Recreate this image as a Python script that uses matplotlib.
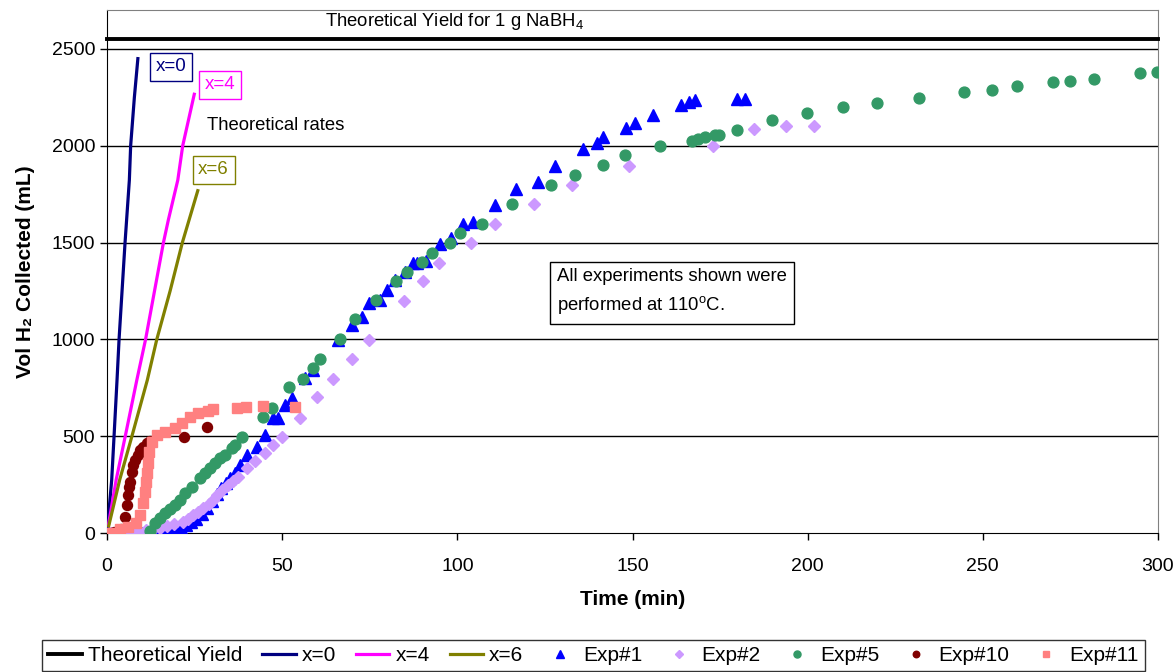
import matplotlib
matplotlib.use("Agg")
import matplotlib.pyplot as plt

plt.rcParams["font.family"] = ["Liberation Sans", "DejaVu Sans"]
plt.rcParams["mathtext.fontset"] = "custom"
plt.rcParams["mathtext.rm"] = "Liberation Sans"
plt.rcParams["mathtext.bf"] = "Liberation Sans:bold"

# -----------------------------
# Data
# -----------------------------
theoretical_yield = 2550

x0_t = [0, 1.33, 2.0, 2.85, 3.43, 5.14, 6.37, 6.74, 7.8, 8.8]
x0_v = [0, 274, 500, 790, 1000, 1500, 1823, 2000, 2250, 2450]

x4_t = [0, 2.6, 5.2, 8.5, 11.0, 16.1, 17.5, 20.2, 21.6, 24.9]
x4_v = [0, 274, 500, 790, 1000, 1500, 1617, 1823, 2000, 2266]

x6_t = [0, 3.6, 7.1, 11.5, 14.2, 18.0, 21.5, 25.9]
x6_v = [0, 274, 500, 790, 1000, 1250, 1500, 1768]

exp1_t = [0, 1, 2, 3, 4, 5, 6, 7, 8, 9, 10, 11, 12, 13, 14, 15,
          16.5, 18, 19.5, 21, 22.5, 24, 25.5, 27, 28.5, 30, 31.3, 32.5,
          34, 35.1, 36.5, 38, 39.9, 42.7, 45.1, 47.5, 48.9, 50.8, 52.7,
          56.5, 58.9, 66.0, 69.9, 72.7, 74.9, 77.9, 80.0, 82.2, 85.1,
          87.4, 88.6, 91.1, 95.1, 98.1, 101.7, 104.6, 110.8, 116.8,
          123.0, 127.9, 135.8, 140.0, 141.7, 148.1, 150.7, 155.9, 163.9,
          166.1, 167.9, 179.9, 182.1]
exp1_v = [0, 0, 0, 0, 0, 0, 0, 0, 0, 0, 0, 0, 0, 0, 0, 0,
          5, 10, 18, 28, 40, 55, 75, 100, 130, 165, 200, 230,
          260, 283, 310, 350, 403, 446, 506, 592, 592, 661, 696,
          799, 842, 997, 1074, 1117, 1186, 1204, 1255, 1307, 1350,
          1393, 1393, 1405, 1491, 1522, 1596, 1608, 1694, 1775,
          1815, 1896, 1983, 2016, 2047, 2090, 2116, 2159, 2211,
          2225, 2237, 2242, 2242]

exp2_t = [1, 3, 5, 7, 9, 11, 13, 15, 17, 19, 21.8, 23, 24.6, 26, 27.5,
          29, 30.3, 31.5, 32.7, 34.6, 36, 37.5, 39.9, 42.2, 45.1, 47.5,
          49.9, 55.1, 59.8, 64.6, 69.9, 74.8, 84.9, 90.1, 94.9, 103.8,
          110.8, 121.9, 132.7, 149.0, 173.1, 184.7, 193.7, 201.8]
exp2_v = [0, 3, 5, 8, 12, 16, 22, 28, 36, 45, 58, 75, 93, 110, 128,
          148, 170, 196, 222, 248, 270, 291, 334, 372, 415, 455,
          494, 596, 700, 795, 897, 997, 1200, 1302, 1396, 1496,
          1596, 1698, 1797, 1897, 1999, 2087, 2104, 2104]

exp5_t = [12.3, 13.7, 15.1, 16.6, 18.0, 19.4, 20.8, 22.3, 24.2, 26.5,
          27.9, 29.4, 30.8, 32.3, 33.7, 35.6, 36.5, 38.5, 44.6, 47.0,
          51.8, 55.8, 58.7, 60.8, 66.5, 70.8, 76.8, 82.5, 85.7, 90.0,
          92.7, 97.9, 100.8, 106.9, 115.5, 126.7, 133.6, 141.7, 147.9,
          157.9, 166.9, 168.8, 170.7, 173.6, 174.8, 179.8, 189.7, 199.7,
          210.0, 219.7, 231.9, 244.6, 252.6, 259.9, 270.0, 275.0, 281.8,
          295.0, 299.8]
exp5_v = [10, 50, 76, 102, 122, 145, 170, 205, 239, 283,
          308, 334, 360, 386, 403, 437, 455, 497, 601, 644,
          756, 795, 850, 899, 1000, 1104, 1204, 1302, 1347, 1398,
          1448, 1496, 1548, 1598, 1699, 1799, 1849, 1901, 1951,
          2001, 2026, 2034, 2044, 2056, 2056, 2082, 2133, 2171,
          2202, 2223, 2247, 2278, 2290, 2311, 2328, 2335, 2347,
          2378, 2383]

exp10_t = [0, 2, 4, 5.1, 5.6, 6.1, 6.4, 6.6, 7.0, 7.5, 8.0, 8.7, 9.4,
           10.4, 11.3, 12.3, 22.1, 28.4]
exp10_v = [0, 5, 20, 84, 145, 196, 239, 265, 317, 351, 377, 403, 429,
           446, 463, 475, 498, 549]

exp11_t = [0, 1.8, 3.7, 6.1, 8.2, 9.4, 10.4, 10.8, 11.0, 11.3, 11.6,
           12.0, 12.8, 14.2, 16.6, 19.4, 21.5, 23.7, 26.1, 28.9, 30.3,
           37.2, 39.6, 44.6, 53.7]
exp11_v = [0, 0, 19, 33, 50, 93, 153, 213, 265, 308, 360,
           420, 472, 506, 523, 541, 567, 601, 618, 632, 639,
           644, 652, 656, 652]

x_ticks = [0, 50, 100, 150, 200, 250, 300]
y_ticks = [0, 500, 1000, 1500, 2000, 2500]


def main() -> None:
    fig = plt.figure(figsize=(11.75, 6.72), dpi=100)
    ax = fig.add_axes([0.0911, 0.2068, 0.8944, 0.778])

    # -----------------------------
    # Gridlines
    # -----------------------------
    for y in y_ticks[1:]:
        ax.axhline(y, color="black", lw=1.0, zorder=1)

    # -----------------------------
    # Lines
    # -----------------------------
    h_ty = ax.axhline(theoretical_yield, color="black", lw=2.8, zorder=3,
                      clip_on=False, label="Theoretical Yield")
    h0, = ax.plot(x0_t, x0_v, color="#000080", lw=2.3, label="x=0", zorder=3)
    h4, = ax.plot(x4_t, x4_v, color="#FF00FF", lw=2.3, label="x=4", zorder=3)
    h6, = ax.plot(x6_t, x6_v, color="#808000", lw=2.3, label="x=6", zorder=3)

    # -----------------------------
    # Experiments
    # -----------------------------
    s1, = ax.plot(exp1_t, exp1_v, ls="none", marker="^", ms=9,
                  color="#0000FF", mec="#0000FF", label="Exp#1", zorder=4)
    s2, = ax.plot(exp2_t, exp2_v, ls="none", marker="D", ms=6.5,
                  color="#CC99FF", mec="#CC99FF", label="Exp#2", zorder=4)
    s5, = ax.plot(exp5_t, exp5_v, ls="none", marker="o", ms=7.8,
                  color="#339966", mec="#339966", label="Exp#5", zorder=4)
    s10, = ax.plot(exp10_t, exp10_v, ls="none", marker="o", ms=7.2,
                   color="#800000", mec="#800000", label="Exp#10", zorder=4)
    s11, = ax.plot(exp11_t, exp11_v, ls="none", marker="s", ms=7.2,
                   color="#FF8080", mec="#FF8080", label="Exp#11", zorder=4)

    # -----------------------------
    # Axes
    # -----------------------------
    ax.set_xlim(0, 300)
    ax.set_ylim(0, 2700)
    ax.set_xticks(x_ticks)
    ax.set_yticks(y_ticks)
    ax.tick_params(direction="out", length=5, width=1, labelsize=14,
                   color="black")
    ax.tick_params(axis="x", pad=13)
    for side in ["top", "right"]:
        ax.spines[side].set_color("#808080")
    for side in ["left", "bottom"]:
        ax.spines[side].set_color("black")

    ax.set_xlabel("Time (min)", fontsize=15, fontweight="bold", labelpad=11)
    ax.set_ylabel("Vol H₂ Collected (mL)", fontsize=15, fontweight="bold",
                  labelpad=12)

    # -----------------------------
    # Annotations
    # -----------------------------
    ax.text(99.3, 2640, "Theoretical Yield for 1 g NaBH$_4$", fontsize=13.3,
            ha="center", va="center")
    box = dict(boxstyle="square,pad=0.3", fc="white", lw=1)
    ax.text(18.3, 2407, "x=0", fontsize=13.5, color="#000080", ha="center",
            va="center", bbox=dict(box, ec="#000080"))
    ax.text(32.3, 2314, "x=4", fontsize=13.5, color="#FF00FF", ha="center",
            va="center", bbox=dict(box, ec="#FF00FF"))
    ax.text(30.4, 1875, "x=6", fontsize=13.5, color="#808000", ha="center",
            va="center", bbox=dict(box, ec="#808000"))
    ax.text(28.5, 2107, "Theoretical rates", fontsize=13.3, ha="left",
            va="center")
    ax.text(161.3, 1245,
            "All experiments shown were\nperformed at 110$^{\\rm o}$C.",
            fontsize=13.3, ha="center", va="center", multialignment="left",
            linespacing=1.6,
            bbox=dict(boxstyle="square,pad=0.4", fc="white", ec="black",
                      lw=1))

    # -----------------------------
    # Legend
    # -----------------------------
    leg = fig.legend(handles=[h_ty, h0, h4, h6, s1, s2, s5, s10, s11],
                     loc="upper center", bbox_to_anchor=(0.505, 0.048),
                     borderaxespad=0, ncol=9, fontsize=15, frameon=True,
                     fancybox=False, edgecolor="black", handlelength=1.6,
                     handletextpad=0.3, columnspacing=0.95, markerscale=0.65,
                     borderpad=0.3)
    leg.get_frame().set_linewidth(1.0)

    fig.savefig("out.png", dpi=100)


if __name__ == "__main__":
    main()
